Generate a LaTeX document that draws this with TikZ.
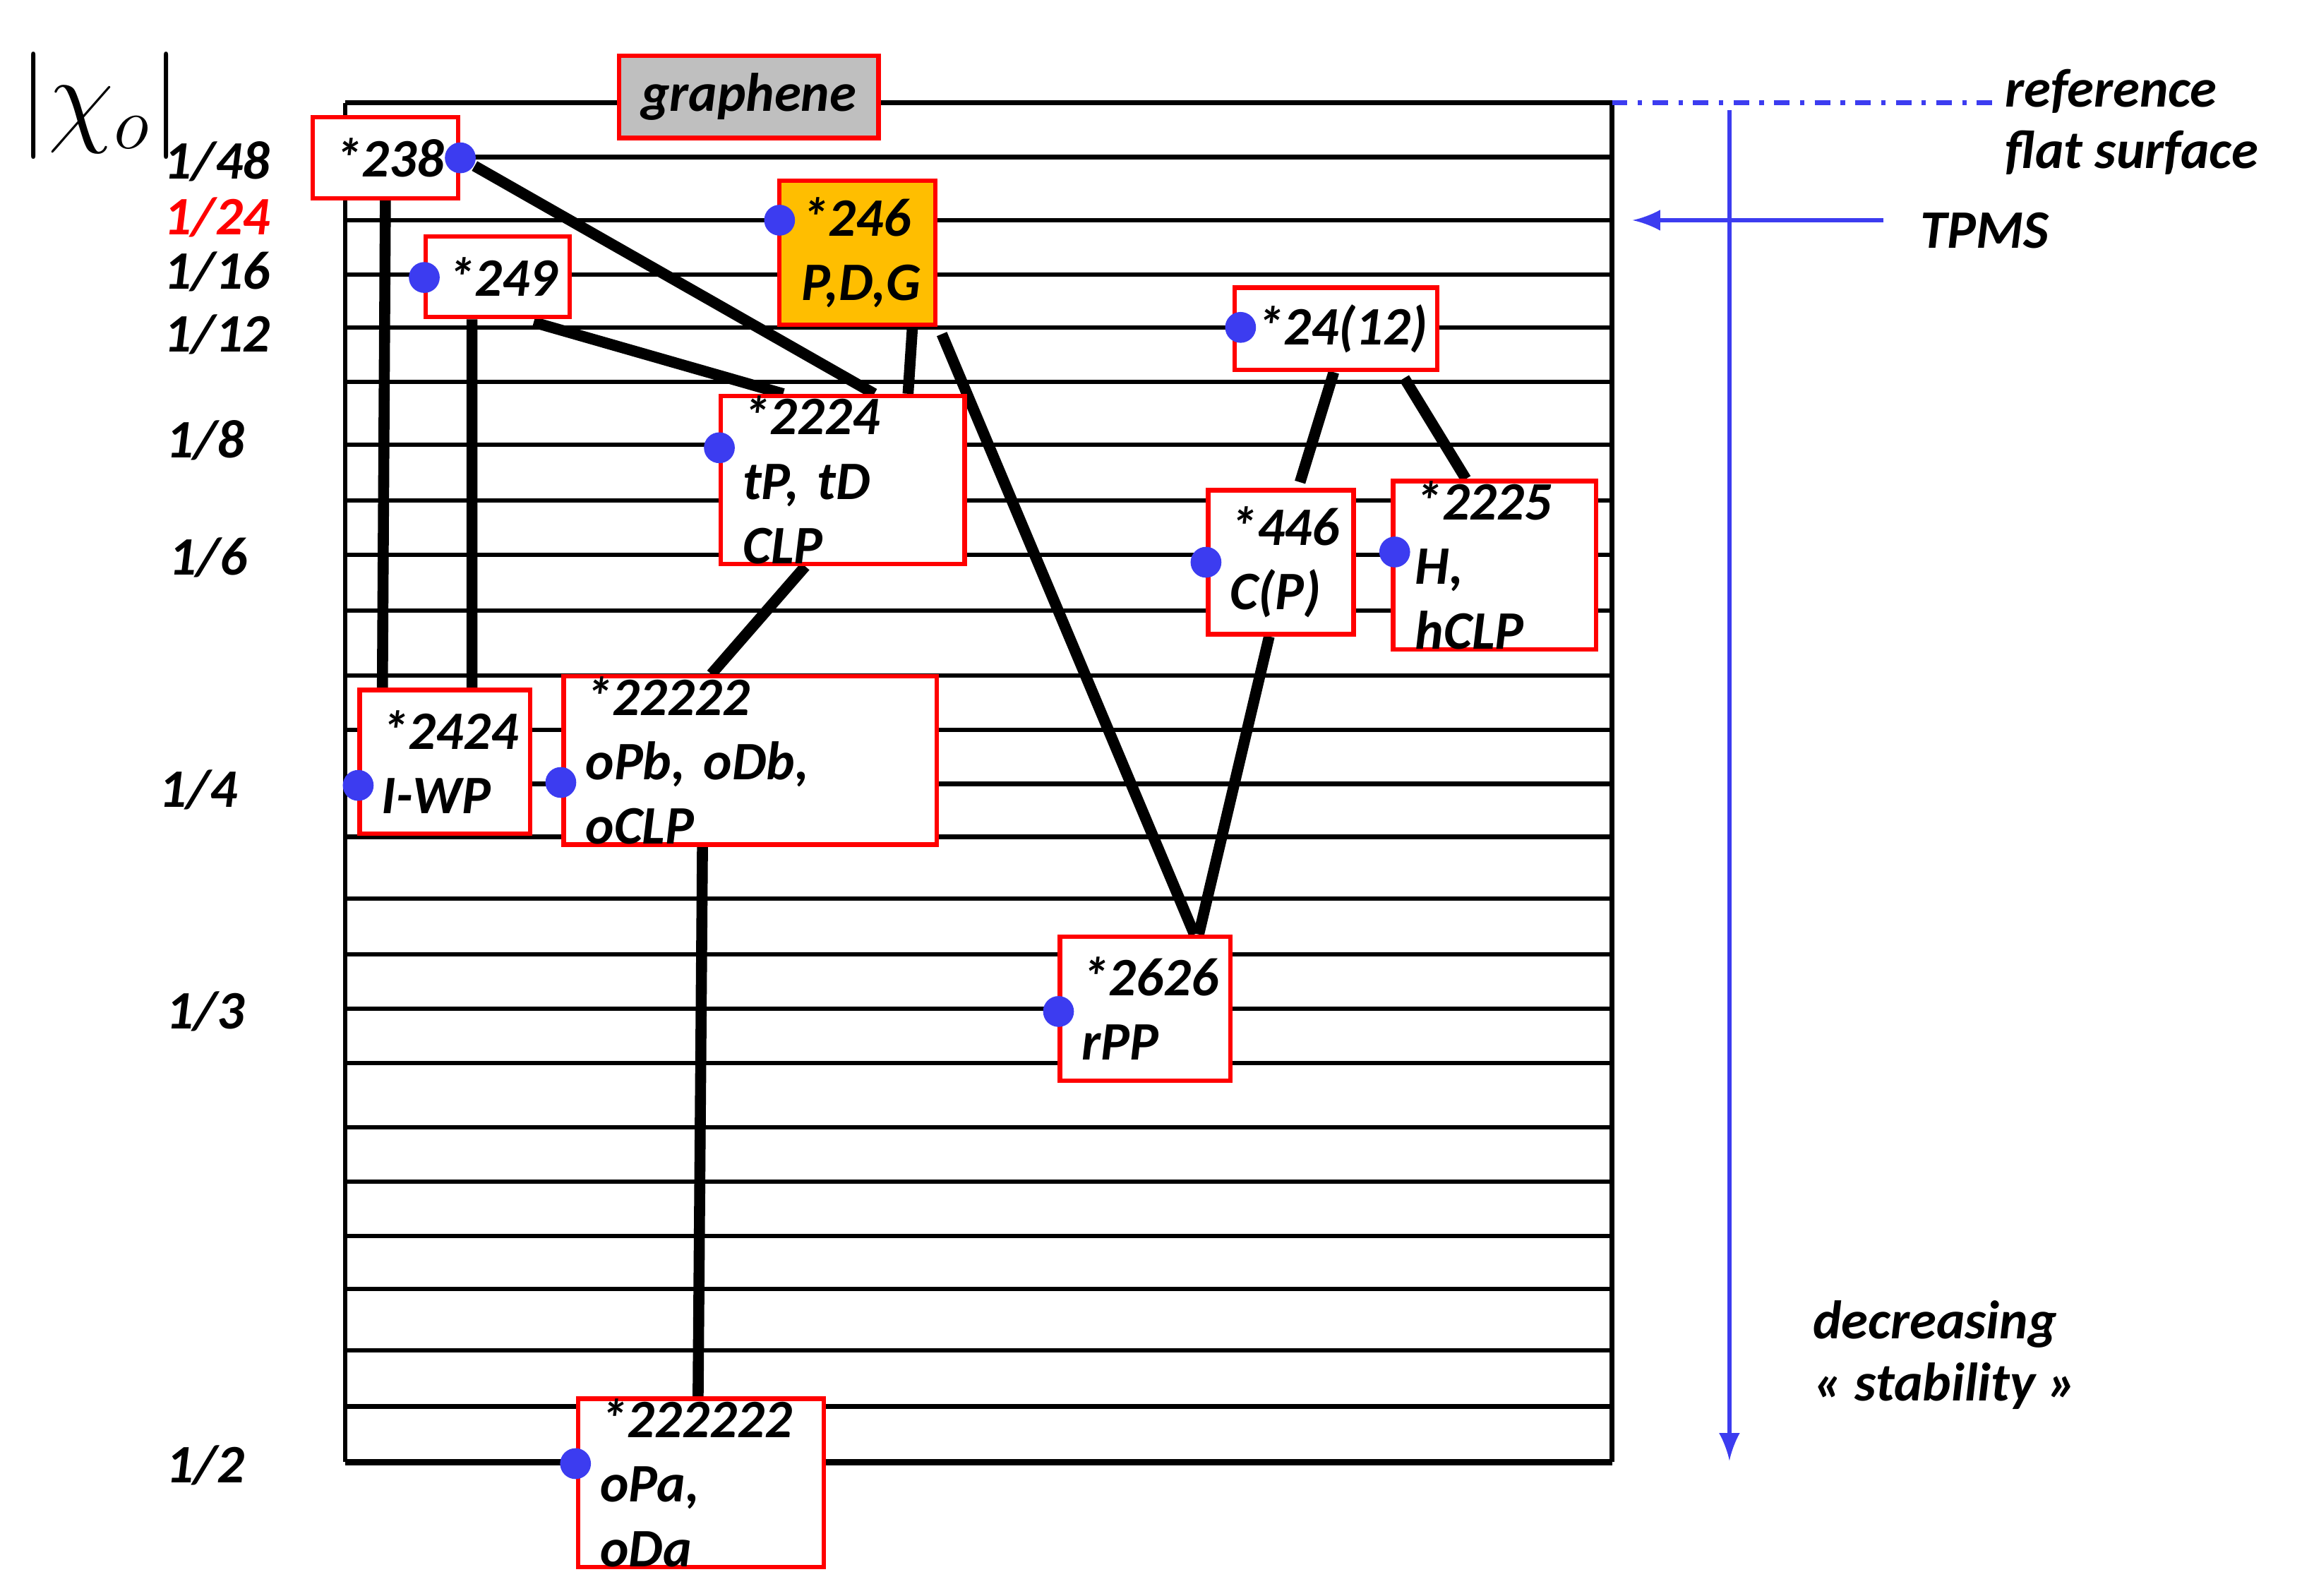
\documentclass[tikz,border=0pt]{standalone}
\usepackage{fontspec}
\setmainfont{Carlito}
\usetikzlibrary{backgrounds, calc}

\definecolor{dotblue}{RGB}{60,60,240}
\definecolor{boxorange}{RGB}{255,190,0}
\tikzset{
  box/.style={draw=red, line width=0.03cm, fill=white, inner xsep=0.15cm,
    inner ysep=0pt, font=\fontsize{10.5}{12.5}\selectfont\bfseries\itshape, align=left},
  dot/.style={circle, fill=dotblue, inner sep=0pt, minimum size=0.21cm},
  grid/.style={line width=0.03cm},
  link/.style={line width=0.075cm},
  lab/.style={font=\fontsize{10.5}{12.5}\selectfont\bfseries\itshape},
  blue arrow/.style={dotblue, line width=0.03cm, -latex}
}

\begin{document}
\begin{tikzpicture}[x=0.01cm, y=-0.01cm]
\useasboundingbox (0,0) rectangle (1568,1087);

% the boxes
\node[box, fill=black!25, minimum width=1.66cm, minimum height=0.56cm, align=center] (graphene) at (510,66) {graphene};
\node[box, text width=0.69cm, minimum height=0.55cm] (b238) at (262.5,107.5) {*238};
\node[box, text width=0.68cm, minimum height=0.55cm] (b249) at (339,188.5) {*249};
\node[box, fill=boxorange, text width=0.76cm, minimum height=0.98cm] (b246) at (584,172) {*246\\P,D,G};
\node[box, text width=1.08cm, minimum height=0.56cm] (b2412) at (910,224) {*24(12)};
\node[box, text width=1.36cm, minimum height=0.98cm] (b2224) at (574,327) {*2224\\tP, tD CLP};
\node[box, text width=0.69cm, minimum height=0.98cm] (b446) at (872.5,383) {*446\\C(P)};
\node[box, text width=1.08cm, minimum height=0.98cm] (b2225) at (1018,385) {*2225\\H, hCLP};
\node[box, text width=0.86cm, minimum height=0.98cm] (b2424) at (303,519) {*2424\\I-WP};
\node[box, text width=2.24cm, minimum height=0.98cm] (b22222) at (511,518) {*22222\\oPb, oDb, oCLP};
\node[box, text width=0.86cm, minimum height=0.98cm] (b2626) at (780,687) {*2626\\rPP};
\node[box, text width=1.37cm, minimum height=0.96cm] (b222222) at (477.5,1010) {*222222\\oPa, oDa};

% the dots
\node[dot] (d238) at (b238.east) {};
\node[dot] (d249) at (289,189) {};
\node[dot] (d246) at (531,150) {};
\node[dot] (d2412) at (845,223) {};
\node[dot] (d2224) at (490,305) {};
\node[dot] (d446) at (b446.west) {};
\node[dot] (d2225) at (950,376) {};
\node[dot] (d2424) at (244,535) {};
\node[dot] (d22222) at (382,533) {};
\node[dot] (d2626) at (721,689) {};
\node[dot] (d222222) at (392,997) {};

% the scale
\node[font=\fontsize{20}{22}\selectfont] (chi) at (68,72) {$|\chi_o|$};
\node[lab] (s48) at (148,110) {1/48};
\node[lab, red] (s24) at (148,148) {1/24};
\node[lab] (s16) at (148,185) {1/16};
\node[lab] (s12) at (148,228) {1/12};
\node[lab] (s8) at (140,300) {1/8};
\node[lab] (s6) at (142,380) {1/6};
\node[lab] (s4) at (135,538) {1/4};
\node[lab] (s3) at (140,689) {1/3};
\node[lab] (s2) at (140,998) {1/2};

% the right hand side
\node[lab] (ref) at (1438,62) {reference};
\node[lab] (flat) at (1452,104) {flat surface};
\node[lab] (tpms) at (1352,157) {TPMS};
\node[lab] (decr) at (1318,902) {decreasing};
\node[lab] (stab) at (1325,944) {« stability »};
\coordinate (refL) at (1098,70);
\coordinate (refR) at (1360,70);
\coordinate (tpmsR) at (1283,150);
\coordinate (tpmsL) at (1112,150);
\coordinate (top) at (1178,75);
\coordinate (bottom) at (1178,995);
\draw[dotblue, line width=0.03cm, dash dot] (refL) -- (refR);
\draw[blue arrow] (tpmsR) -- (tpmsL);
\draw[blue arrow] (top) -- (bottom);

\begin{scope}[on background layer]
  % levels
  \foreach \y in {70,107,150,187,223,260,303,341,378,416,460,497,534,570,612,650,687,724,768,805,842,878,920,958}
    \draw[grid] (235,\y) -- (1098,\y);
  \draw[line width=0.045cm] (235,996) -- (1098,996);
  \draw[grid] (235,70) -- (235,996);
  \draw[grid] (1098,70) -- (1098,996);
  % links
  \draw[link] (b238.south) -- ([xshift=0.17cm]b2424.north west);
  \draw[link] ([xshift=0.33cm]b249.south west) -- ([xshift=0.78cm]b2424.north west);
  \draw[link] (d238) -- ([xshift=1.06cm]b2224.north west);
  \draw[link] ([xshift=0.75cm,yshift=-0.02cm]b249.south west) -- ([xshift=0.44cm]b2224.north west);
  \draw[link] ([xshift=0.92cm]b246.south west) -- ([xshift=1.29cm]b2224.north west);
  \draw[link] ([xshift=0.03cm,yshift=-0.05cm]b246.south east) -- ([xshift=0.93cm]b2626.north west);
  \draw[link] ([xshift=0.59cm]b2224.south west) -- ([xshift=1.02cm]b22222.north west);
  \draw[link] ([xshift=0.96cm]b22222.south west) -- ([xshift=0.83cm]b222222.north west);
  \draw[link] ([xshift=0.69cm]b2412.south west) -- ([xshift=0.64cm,yshift=0.04cm]b446.north west);
  \draw[link] ([xshift=1.17cm,yshift=-0.04cm]b2412.south west) -- ([xshift=0.51cm]b2225.north west);
  \draw[link] ([xshift=0.43cm]b446.south west) -- ([xshift=0.96cm]b2626.north west);
\end{scope}
\end{tikzpicture}
\end{document}
